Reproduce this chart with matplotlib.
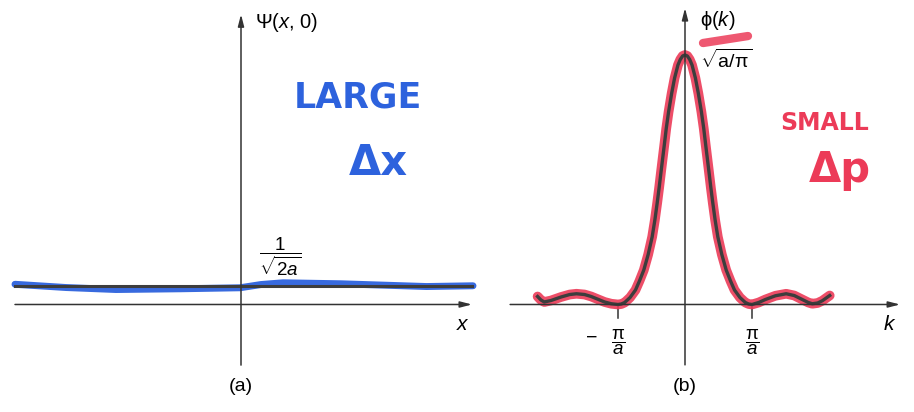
import numpy as np
import matplotlib
matplotlib.use("Agg")
import matplotlib.pyplot as plt

plt.rcParams['font.family'] = ['Liberation Sans', 'DejaVu Sans']
plt.rcParams['mathtext.fontset'] = 'custom'
plt.rcParams['mathtext.rm'] = 'Liberation Sans'
plt.rcParams['mathtext.it'] = 'Liberation Sans:italic'
plt.rcParams['mathtext.bf'] = 'Liberation Sans:bold'

# (a) flat wave function
x_psi = [-4.52, 4.62]
psi = [0.076, 0.076]
# hand-drawn blue marker over it
x_blue = [-4.52, -3.5, -2.5, -1.2, -0.02, 0.4, 0.84, 2.0, 3.71, 4.64]
psi_blue = [0.081, 0.068, 0.060, 0.063, 0.067, 0.080, 0.087, 0.083, 0.072, 0.075]

# (b) phi(k), k in units of pi/a, phi relative to peak sqrt(a/pi)
k_vals = [-2.20, -2.15, -2.10, -2.00, -1.85, -1.72, -1.62, -1.50, -1.40, -1.30,
          -1.20, -1.10, -1.00, -0.95, -0.90, -0.82, -0.739, -0.68, -0.615, -0.55,
          -0.49, -0.45, -0.415, -0.385, -0.358, -0.309, -0.28, -0.245, -0.20,
          -0.155, -0.105, -0.07, -0.035, 0.0,
          0.035, 0.07, 0.105, 0.155, 0.20, 0.245, 0.28, 0.309, 0.358, 0.385,
          0.415, 0.45, 0.49, 0.55, 0.615, 0.68, 0.739, 0.82, 0.90, 0.95,
          1.00, 1.10, 1.20, 1.35, 1.51, 1.63, 1.75, 1.84, 1.90, 1.98, 2.05, 2.16]
phi_vals = [0.032, 0.018, 0.010, 0.016, 0.030, 0.040, 0.043, 0.040, 0.032, 0.021,
            0.010, 0.003, 0.0, 0.002, 0.008, 0.028, 0.058, 0.094, 0.138, 0.200,
            0.271, 0.338, 0.407, 0.470, 0.531, 0.639, 0.705, 0.772, 0.845,
            0.908, 0.960, 0.982, 0.996, 1.0,
            0.996, 0.982, 0.960, 0.908, 0.845, 0.772, 0.705, 0.639, 0.531, 0.470,
            0.407, 0.338, 0.271, 0.200, 0.138, 0.094, 0.058, 0.028, 0.008, 0.002,
            0.0, 0.008, 0.020, 0.035, 0.043, 0.036, 0.020, 0.008, 0.003, 0.006, 0.015, 0.036]
k_ticks = [-1, 1]

axis_col = '#333333'
curve_col = '#3d3d3d'
blue = '#2d62dd'
red = '#ec3b58'
ylim = (-0.4309, 1.2204)

fig = plt.figure(figsize=(9.14, 4.12), dpi=100)
ax1 = fig.add_axes([0, 0, 484 / 914, 1])
ax2 = fig.add_axes([484 / 914, 0, 430 / 914, 1])
for ax in (ax1, ax2):
    ax.set_axis_off()
    ax.set_ylim(*ylim)
ax1.set_xlim(-4.82, 4.86)
ax2.set_xlim(-3.0, 3.418)

arrow = dict(arrowstyle='-|>,head_length=0.7,head_width=0.18', lw=1.1,
             color=axis_col, shrinkA=0, shrinkB=0)

# ---- panel (a)
ax1.annotate('', xy=(4.62, 0), xytext=(-4.52, 0), arrowprops=arrow)
ax1.annotate('', xy=(0, 1.163), xytext=(0, -0.243), arrowprops=arrow)
ax1.plot(x_blue, psi_blue, color=blue, lw=5, solid_capstyle='round',
         solid_joinstyle='round', alpha=0.95)
ax1.plot(x_psi, psi, color=curve_col, lw=2.2)

ax1.text(0.28, 1.132, r'$\Psi$($x$, 0)', fontsize=14.5, va='center', ha='left')
ax1.text(4.44, -0.082, r'$x$', fontsize=15, va='center', ha='center')
ax1.text(0.78, 0.19, r'$\dfrac{1}{\sqrt{2a}}$', fontsize=13.5, va='center', ha='center')
ax1.text(0, -0.327, '(a)', fontsize=14, va='center', ha='center')
ax1.text(2.34, 0.828, 'LARGE', fontsize=25, fontweight='bold', color=blue,
         family='DejaVu Sans', va='center', ha='center')
ax1.text(2.74, 0.567, 'Δx', fontsize=30, fontweight='bold', color=blue,
         family='DejaVu Sans', va='center', ha='center')

# ---- panel (b)
ax2.annotate('', xy=(3.21, 0), xytext=(-2.61, 0), arrowprops=arrow)
ax2.annotate('', xy=(0, 1.188), xytext=(0, -0.242), arrowprops=arrow)
for kt in k_ticks:
    ax2.plot([kt, kt], [0, -0.054], color=axis_col, lw=1.1)
    ax2.text(kt, -0.150, r'$\dfrac{\mathrm{π}}{a}$', fontsize=13.5,
             va='center', ha='center')
ax2.text(-1.40, -0.135, '−', fontsize=14, va='center', ha='center')

ax2.plot(k_vals, phi_vals, color=red, lw=7, solid_capstyle='round',
         solid_joinstyle='round', alpha=0.9)
ax2.plot(k_vals, phi_vals, color=curve_col, lw=2.4, solid_joinstyle='round')

ax2.text(0.224, 1.140, r'ϕ($k$)', fontsize=14.5, va='center', ha='left')
ax2.plot([0.269, 0.94], [1.048, 1.076], color=red, lw=6, alpha=0.85,
         solid_capstyle='round')
ax2.text(0.224, 0.98, r'$\sqrt{\mathrm{a/π}}$', fontsize=14, va='center', ha='left')
ax2.text(3.06, -0.082, r'$k$', fontsize=15, va='center', ha='center')
ax2.text(0, -0.327, '(b)', fontsize=14, va='center', ha='center')
ax2.text(2.09, 0.727, 'SMALL', fontsize=17, fontweight='bold', color=red,
         family='DejaVu Sans', va='center', ha='center')
ax2.text(2.31, 0.539, 'Δp', fontsize=30, fontweight='bold', color=red,
         family='DejaVu Sans', va='center', ha='center')

fig.savefig('out.png', dpi=100)
